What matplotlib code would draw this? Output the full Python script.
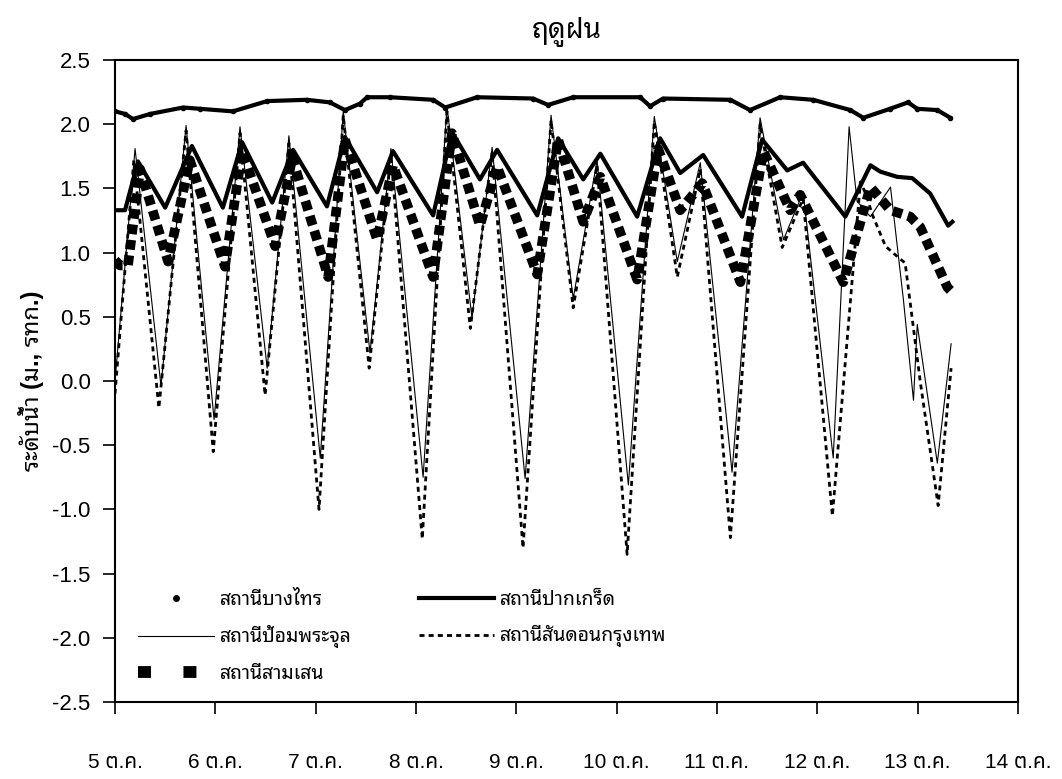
import matplotlib
matplotlib.use('Agg')
import matplotlib.pyplot as plt
from matplotlib import font_manager
from matplotlib.lines import Line2D

# Thai-capable fonts (fall back to whatever is installed)
installed = set(f.name for f in font_manager.fontManager.ttflist)
loopedThai = 'Noto Sans Thai Looped' if 'Noto Sans Thai Looped' in installed else 'Loma'
plainThai = 'Noto Sans Thai' if 'Noto Sans Thai' in installed else loopedThai
plt.rcParams['font.family'] = ['Liberation Sans', loopedThai, 'DejaVu Sans']

##########################################################################
# Data (hours since 5 Oct 00:00, water level in m MSL)
bangsaiHours = [0, 2.4, 4.3, 8.4, 16.3, 20.3, 28.2, 36.4, 45.9, 51.4, 55.0, 58.6,
	60.3, 65.8, 76.1, 79.0, 86.6, 100.0, 103.6, 109.6, 125.6, 128.0, 131.1, 147.2,
	151.9, 159.1, 167.0, 175.9, 179.0, 185.4, 189.7, 191.9, 196.7, 199.8]
bangsaiLevel = [2.10, 2.08, 2.04, 2.08, 2.13, 2.12, 2.10, 2.18, 2.19, 2.17, 2.11, 2.16,
	2.21, 2.21, 2.19, 2.13, 2.21, 2.20, 2.15, 2.21, 2.21, 2.14, 2.20, 2.19,
	2.11, 2.21, 2.19, 2.11, 2.05, 2.12, 2.17, 2.12, 2.11, 2.05]

pakkretHours = [0, 2.4, 5.5, 12.0, 18.4, 25.8, 30.4, 37.6, 42.6, 50.7, 55.0, 62.7,
	66.5, 76.1, 80.6, 87.3, 91.4, 101.0, 106.0, 112.0, 116.1, 124.9, 130.4, 135.2,
	140.7, 150.0, 154.8, 160.8, 164.6, 174.7, 180.7, 183.1, 187.1, 190.7, 195.0,
	199.3, 200.3]
pakkretLevel = [1.33, 1.33, 1.71, 1.35, 1.83, 1.35, 1.86, 1.39, 1.80, 1.36, 1.90, 1.47,
	1.79, 1.29, 1.94, 1.57, 1.80, 1.29, 1.89, 1.57, 1.77, 1.28, 1.89, 1.62,
	1.76, 1.28, 1.88, 1.64, 1.70, 1.28, 1.68, 1.63, 1.59, 1.58, 1.46,
	1.21, 1.24]

pomHours = [0, 4.8, 11.0, 17.0, 23.7, 29.9, 36.4, 41.6, 49.1, 54.6, 61.0, 66.0,
	73.7, 79.4, 85.4, 90.2, 98.1, 104.3, 109.6, 115.3, 122.8, 129.0, 134.5, 140.0,
	147.6, 154.3, 159.9, 164.6, 171.8, 175.6, 177.5, 180.7, 185.5, 188.6, 191.0,
	191.9, 196.7, 200.0]
pomLevel = [0.00, 1.81, -0.04, 1.99, -0.30, 1.98, 0.10, 1.91, -0.60, 2.10, 0.22, 1.81,
	-0.75, 2.14, 0.49, 1.82, -0.76, 2.07, 0.64, 1.72, -0.81, 2.06, 0.93, 1.70,
	-0.71, 2.05, 1.10, 1.47, -0.60, 1.98, 1.40, 1.28, 1.51, 0.63, -0.15,
	0.44, -0.64, 0.29]

sandonHours = [0, 4.5, 10.5, 17.0, 23.5, 29.9, 35.9, 41.6, 48.8, 54.6, 60.8, 66.0,
	73.5, 79.4, 85.0, 90.2, 97.6, 104.3, 109.6, 115.3, 122.5, 129.0, 134.5, 140.0,
	147.2, 154.3, 159.6, 164.6, 171.6, 178.3, 179.7, 181.1, 184.3, 187.8, 189.0,
	192.6, 196.9, 200.0]
sandonLevel = [-0.10, 1.72, -0.21, 1.95, -0.55, 1.93, -0.11, 1.85, -1.00, 2.07, 0.10, 1.76,
	-1.23, 2.10, 0.41, 1.78, -1.30, 2.03, 0.57, 1.68, -1.35, 2.02, 0.81, 1.65,
	-1.22, 2.00, 1.04, 1.42, -1.05, 1.55, 1.45, 1.30, 1.05, 0.95, 0.92,
	0.00, -0.97, 0.10]

samsenHours = [0, 1.2, 3.1, 6.0, 12.7, 17.9, 26.3, 30.4, 38.3, 42.4, 51.0, 55.0,
	62.7, 66.5, 76.1, 80.6, 87.3, 91.4, 101.0, 106.0, 112.0, 116.1, 124.9, 129.9,
	135.2, 140.5, 149.6, 155.1, 161.5, 163.9, 174.2, 180.7, 185.5, 190.2, 192.6,
	199.1, 200.0]
samsenLevel = [0.94, 0.90, 0.90, 1.65, 0.93, 1.72, 0.89, 1.79, 1.05, 1.74, 0.81, 1.88,
	1.10, 1.68, 0.81, 1.93, 1.21, 1.67, 0.83, 1.88, 1.24, 1.59, 0.79, 1.81,
	1.33, 1.54, 0.77, 1.79, 1.33, 1.45, 0.77, 1.51, 1.33, 1.28, 1.20,
	0.73, 0.70]

stationNames = ['สถานีบางไทร', 'สถานีปากเกร็ด', 'สถานีป้อมพระจุล',
	'สถานีสันดอนกรุงเทพ', 'สถานีสามเสน']
dayLabels = ['5 ต.ค.', '6 ต.ค.', '7 ต.ค.', '8 ต.ค.', '9 ต.ค.', '10 ต.ค.',
	'11 ต.ค.', '12 ต.ค.', '13 ต.ค.', '14 ต.ค.']
yTicks = [-2.5, -2.0, -1.5, -1.0, -0.5, 0.0, 0.5, 1.0, 1.5, 2.0, 2.5]

##########################################################################
# Plot setup
fig = plt.figure(figsize=(10.62, 7.79), dpi=100, facecolor='white')
ax = fig.add_axes([115/1062.0, 77/779.0, 903/1062.0, 642/779.0])

toDays = lambda hrs: [h / 24.0 for h in hrs]

samsenStyle = dict(color='black', linewidth=7, linestyle=(0, (1.0, 0.6)))
sandonStyle = dict(color='black', linewidth=2, linestyle=(0, (1.8, 1.5)))

ax.plot(toDays(samsenHours), samsenLevel, **samsenStyle)
ax.plot(toDays(sandonHours), sandonLevel, **sandonStyle)
ax.plot(toDays(pomHours), pomLevel, color='black', linewidth=0.8)
ax.plot(toDays(pakkretHours), pakkretLevel, color='black', linewidth=3)
ax.plot(toDays(bangsaiHours), bangsaiLevel, color='black', linewidth=3,
	marker='o', markersize=3)

# Axis formatting
ax.set_xlim(0, 9)
ax.set_ylim(-2.5, 2.5)
ax.set_xticks(range(len(dayLabels)))
ax.set_xticklabels(dayLabels, family=['Liberation Sans', plainThai, 'DejaVu Sans'],
	fontsize=15)
ax.set_yticks(yTicks)
ax.set_yticklabels(['%.1f' % t for t in yTicks], fontsize=16)
ax.tick_params(axis='both', direction='out', length=8.5, width=1.2, colors='black')
ax.tick_params(axis='x', pad=28)
ax.tick_params(axis='y', pad=9)
for s in ax.spines.values():
	s.set_linewidth(1.5)

ax.set_ylabel('ระดับน้ำ (ม., รทก.)', fontsize=17, fontweight='bold', labelpad=6)
ax.set_title('ฤดูฝน', fontsize=20, pad=16)

# Legend (Excel style, no frame)
handles = [
	Line2D([], [], color='black', marker='o', markersize=4, linestyle='none'),
	Line2D([], [], color='black', linewidth=0.8),
	Line2D([], [], color='black', linewidth=8.5, linestyle=(0, (1.1, 2.75))),
	Line2D([], [], color='black', linewidth=3),
	Line2D([], [], **sandonStyle),
]
labels = [stationNames[0], stationNames[2], stationNames[4],
	stationNames[1], stationNames[3]]
ax.legend(handles, labels, ncol=2, loc='lower left', bbox_to_anchor=(0.0255, 0.03),
	frameon=False, fontsize=14, handlelength=3.9, handletextpad=0.3,
	columnspacing=3.45, labelspacing=0.86, borderpad=0, borderaxespad=0)

plt.savefig('out.png', dpi=100)
